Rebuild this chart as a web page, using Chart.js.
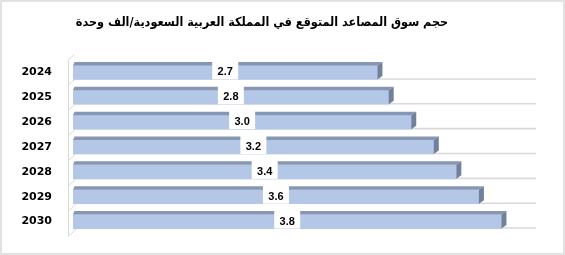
<!DOCTYPE html>
<html>
<head>
<meta charset="utf-8">
<script src="https://cdn.jsdelivr.net/npm/chart.js@4/dist/chart.umd.min.js"></script>
<style>
  body { margin: 0; background: #fff; }
  canvas { display: block; }
</style>
</head>
<body>
<canvas id="myChart" width="565" height="255"></canvas>
<script>
const chartTitle = "حجم سوق المصاعد المتوقع في المملكة العربية السعودية/الف وحدة";
const years = ["2024", "2025", "2026", "2027", "2028", "2029", "2030"];
const marketSize = [2.7, 2.8, 3.0, 3.2, 3.4, 3.6, 3.8];

// 3d look, drawn around the bars chart.js gives us
const depthX = 5;
const depthY = 3.5;
const frontColor = "#B4C7E7";
const topColor = "#8797B3";
const sideColor = "#72819B";
const lineColor = "#D9D9D9";

const bar3d = {
  id: "bar3d",
  beforeDatasetsDraw(chart) {
    const ctx = chart.ctx;
    const area = chart.chartArea;
    const bars = chart.getDatasetMeta(0).data;
    ctx.save();
    // outer frame
    ctx.strokeStyle = lineColor;
    ctx.lineWidth = 1.5;
    ctx.strokeRect(1, 1, chart.width - 2, chart.height - 2);

    // floor lines + side wall
    const wallX = area.left - 4.5;
    const floors = bars.map((b) => b.y + b.height / 2);
    const step = floors.length > 1 ? floors[1] - floors[0] : 25;
    const allFloors = [floors[0] - step].concat(floors);
    ctx.lineWidth = 1;
    ctx.beginPath();
    allFloors.forEach((fy, i) => {
      const dx = 6 + i * 0.3;
      const dy = 5 + i * 0.4;
      ctx.moveTo(wallX, fy + dy);
      ctx.lineTo(wallX + dx, fy);
    });
    const last = allFloors.length - 1;
    ctx.moveTo(wallX, allFloors[0] + 5);
    ctx.lineTo(wallX, allFloors[last] + 5 + last * 0.4);
    ctx.stroke();

    ctx.lineWidth = 1.6;
    ctx.beginPath();
    floors.forEach((fy) => {
      ctx.moveTo(area.left + 2, fy - 0.5);
      ctx.lineTo(area.right + 12, fy - 0.5);
    });
    ctx.stroke();
    ctx.restore();
  },
  afterDatasetsDraw(chart) {
    const ctx = chart.ctx;
    const bars = chart.getDatasetMeta(0).data;
    ctx.save();
    bars.forEach((b, i) => {
      const x0 = b.base;
      const x1 = b.x;
      const y0 = b.y - b.height / 2;
      const y1 = b.y + b.height / 2;
      // top face
      ctx.fillStyle = topColor;
      ctx.beginPath();
      ctx.moveTo(x0, y0);
      ctx.lineTo(x0 + depthX * 0.3, y0 - depthY);
      ctx.lineTo(x1 + depthX, y0 - depthY);
      ctx.lineTo(x1, y0);
      ctx.closePath();
      ctx.fill();
      // right face
      ctx.fillStyle = sideColor;
      ctx.beginPath();
      ctx.moveTo(x1, y0);
      ctx.lineTo(x1 + depthX, y0 - depthY);
      ctx.lineTo(x1 + depthX, y1 - depthY);
      ctx.lineTo(x1, y1);
      ctx.closePath();
      ctx.fill();

      // value label in a white box
      const txt = marketSize[i].toFixed(1);
      const cx = (x0 + x1) / 2;
      ctx.fillStyle = "#fff";
      ctx.fillRect(cx - 13, y0 - depthY - 1, 26, y1 - y0 + depthY + 1);
      ctx.fillStyle = "#000";
      ctx.font = "bold 11px 'Liberation Sans'";
      ctx.textAlign = "center";
      ctx.textBaseline = "middle";
      ctx.fillText(txt, cx, b.y);
    });
    ctx.restore();
  },
};

const ctx = document.getElementById("myChart");
const mychart = new Chart(ctx, {
  type: "bar",
  data: {
    labels: years,
    datasets: [
      {
        data: marketSize,
        backgroundColor: frontColor,
        borderWidth: 0,
        barThickness: 14,
      },
    ],
  },
  options: {
    indexAxis: "y",
    responsive: false,
    animation: false,
    devicePixelRatio: 1,
    layout: { padding: { left: 0, right: 41, top: 0, bottom: 21 } },
    plugins: {
      legend: { display: false },
      tooltip: { enabled: false },
      title: {
        display: true,
        text: chartTitle,
        color: "#000",
        font: { family: "'DejaVu Sans Condensed', 'DejaVu Sans'", size: 12.5, weight: "bold" },
        padding: { top: 15, bottom: 30 },
      },
    },
    scales: {
      x: {
        display: false,
        min: 0,
        max: 4,
      },
      y: {
        grid: { display: false, drawTicks: false },
        border: { display: false },
        ticks: {
          color: "#000",
          padding: 21,
          font: { family: "'DejaVu Sans'", size: 11, weight: "bold" },
        },
        afterFit(scale) {
          scale.width = 73;
          scale.paddingTop = 0;
          scale.paddingBottom = 0;
        },
      },
    },
  },
  plugins: [bar3d],
});
</script>
</body>
</html>
